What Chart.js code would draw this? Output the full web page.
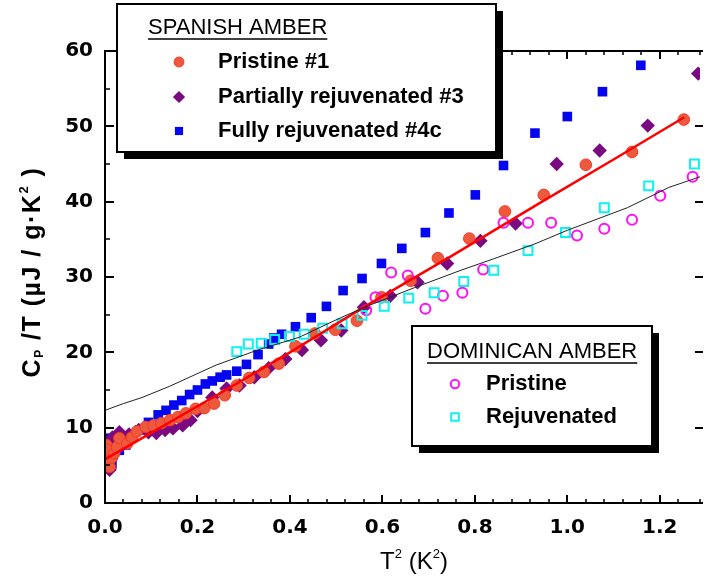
<!DOCTYPE html>
<html lang="en">
<head>
<meta charset="UTF-8">
<title>Amber specific heat</title>
<script src="https://cdn.jsdelivr.net/npm/chart.js"></script>
<style>
  html, body { margin: 0; padding: 0; background: #fff; }
  canvas { display: block; }
</style>
</head>
<body>
<canvas id="cpChart" width="713" height="583"></canvas>
<script>
// [T^2, Cp/T] pairs
const spanishPristine1 = [
  [0.003,7.7],[0.005,7.0],[0.010,4.8],[0.014,6.0],[0.020,6.6],[0.026,7.4],[0.031,8.6],[0.048,7.9],
  [0.058,8.7],[0.069,9.5],[0.088,10.1],[0.105,10.3],[0.122,10.6],[0.141,11.0],[0.158,11.4],[0.175,11.9],
  [0.196,12.5],[0.215,12.6],[0.236,13.2],[0.259,14.3],[0.285,15.6],[0.312,16.6],[0.344,17.4],[0.376,18.5],
  [0.412,20.8],[0.454,22.5],[0.498,23.0],[0.545,24.2],[0.598,27.3],[0.661,29.5],[0.720,32.5],[0.788,35.1],
  [0.865,38.7],[0.949,40.9],[1.040,44.9],[1.140,46.6],[1.252,50.9]
];
const spanishPartial3 = [
  [0.010,4.4],[0.016,8.7],[0.031,9.4],[0.052,9.1],[0.073,9.7],[0.094,9.4],[0.111,9.3],[0.130,9.7],
  [0.147,9.9],[0.168,10.3],[0.185,11.0],[0.200,12.2],[0.232,14.0],[0.263,15.2],[0.291,15.6],[0.323,16.7],
  [0.354,17.9],[0.390,19.1],[0.426,20.3],[0.467,21.6],[0.511,22.9],[0.560,26.0],[0.617,27.5],[0.676,29.3],
  [0.740,31.8],[0.812,34.8],[0.888,37.1],[0.977,45.0],[1.070,46.8],[1.174,50.1],[1.283,57.0]
];
const spanishFully4c = [
  [0.003,6.4],[0.005,8.6],[0.010,7.7],[0.015,5.2],[0.018,6.4],[0.031,7.0],[0.045,7.7],[0.060,9.0],
  [0.075,9.7],[0.094,10.7],[0.115,11.7],[0.132,12.3],[0.149,13.0],[0.166,13.6],[0.183,14.4],[0.200,15.0],
  [0.217,15.8],[0.232,16.2],[0.249,16.7],[0.263,17.0],[0.285,17.5],[0.306,18.4],[0.331,19.7],[0.354,21.1],
  [0.365,21.9],[0.382,22.4],[0.412,23.4],[0.446,24.6],[0.479,26.1],[0.515,28.2],[0.556,29.8],[0.598,31.8],
  [0.642,33.8],[0.693,35.9],[0.744,38.5],[0.801,40.9],[0.862,44.8],[0.930,49.1],[1.000,51.3],[1.076,54.6],
  [1.159,58.1]
];
const dominicanPristine = [
  [0.565,25.6],[0.585,27.3],[0.619,30.6],[0.655,30.2],[0.693,25.8],[0.731,27.5],[0.773,27.9],[0.818,31.0],
  [0.862,37.2],[0.915,37.2],[0.965,37.2],[1.021,35.5],[1.080,36.4],[1.140,37.6],[1.201,40.8],[1.271,43.3]
];
const dominicanRejuvenated = [
  [0.285,20.1],[0.310,21.1],[0.338,21.2],[0.367,21.7],[0.399,22.1],[0.431,22.4],[0.471,23.2],[0.513,23.8],
  [0.556,24.9],[0.604,26.1],[0.657,27.2],[0.712,27.9],[0.776,29.4],[0.841,30.9],[0.915,33.5],[0.996,35.9],
  [1.080,39.2],[1.176,42.1],[1.275,45.0]
];
// fitted curves as drawn
const spanishFit = [
  [0,5.8],[0.1,9.3],[0.25,14.6],[0.4,20.0],[0.56,26.0],[0.75,32.8],[0.94,39.8],[1.1,45.6],[1.253,51.2]
];
const dominicanFit = [
  [0,12.3],[0.04,13.2],[0.08,14.0],[0.14,15.5],[0.24,18.3],[0.33,20.3],[0.42,22.0],[0.51,24.6],[0.57,26.2],
  [0.67,28.6],[0.77,30.9],[0.84,32.4],[0.93,34.4],[1.00,36.2],[1.13,39.2],[1.22,41.9],[1.287,43.3]
];

const xTickLabels = ['0.0','0.2','0.4','0.6','0.8','1.0','1.2'];
const yTickLabels = ['0','10','20','30','40','50','60'];
const spanishLabels = ['Pristine #1', 'Partially rejuvenated #3', 'Fully rejuvenated #4c'];
const dominicanLabels = ['Pristine', 'Rejuvenated'];

const toXY = arr => arr.map(p => ({ x: p[0], y: p[1] }));
const labelFor = (v, step, list) => {
  const i = Math.round(v / step);
  return Math.abs(v - i * step) < 1e-6 && list[i] !== undefined ? list[i] : '';
};
const isMajor = (v, step) => Math.abs(v / step - Math.round(v / step)) < 1e-6;

const tickFont = { family: '"DejaVu Sans", sans-serif', weight: 'bold', size: 20 };
const sans = '"Liberation Sans", Arial, sans-serif';

// style of each marker series (used by both datasets and legends)
const redStyle = { pointStyle: 'circle', pointRadius: 5.8, backgroundColor: '#EC5A3E', borderColor: '#FF3322', borderWidth: 1 };
const purpleStyle = { pointStyle: 'rectRot', pointRadius: 7.2, backgroundColor: '#7A0A82', borderColor: '#7A0A82', borderWidth: 0 };
const blueStyle = { pointStyle: 'rect', pointRadius: 6.8, backgroundColor: '#0505F0', borderColor: '#0505F0', borderWidth: 0 };
const magentaStyle = { pointStyle: 'circle', pointRadius: 5, backgroundColor: 'rgba(0,0,0,0)', borderColor: '#FF10F0', borderWidth: 2 };
const cyanStyle = { pointStyle: 'rect', pointRadius: 6.3, backgroundColor: 'rgba(0,0,0,0)', borderColor: '#10F0F0', borderWidth: 2 };

function line(ctx, x1, y1, x2, y2) {
  ctx.beginPath(); ctx.moveTo(x1, y1); ctx.lineTo(x2, y2); ctx.stroke();
}

// frame with inward ticks on all sides
const framePlugin = {
  id: 'frame',
  afterDatasetsDraw(chart) {
    const { ctx, chartArea: a, scales: { x, y } } = chart;
    ctx.save();
    ctx.strokeStyle = '#000';
    ctx.lineCap = 'square';
    ctx.lineWidth = 2;
    line(ctx, a.left, a.bottom, a.right + 2, a.bottom);
    line(ctx, a.left, a.top, a.right + 2, a.top);
    line(ctx, a.left, a.top, a.left, a.bottom);
    ctx.lineCap = 'butt';
    x.ticks.forEach(t => {
      const px = Math.round(x.getPixelForValue(t.value));
      const major = isMajor(t.value, 0.2);
      const len = major ? 8 : 4;
      ctx.lineWidth = major ? 2 : 1.5;
      line(ctx, px, a.bottom, px, a.bottom - len);
      line(ctx, px, a.top, px, a.top + len);
    });
    y.ticks.forEach(t => {
      const py = Math.round(y.getPixelForValue(t.value));
      const major = isMajor(t.value, 10);
      ctx.lineWidth = major ? 2 : 1.5;
      line(ctx, a.left, py, a.left + (major ? 9 : 5), py);
      if (major) line(ctx, a.right + 3, py, a.right - 5, py);
    });
    ctx.restore();
  }
};

function drawRich(ctx, parts, x, y, align) {
  // parts: [text, size, weight, dy]
  let total = 0;
  parts.forEach(p => { ctx.font = p[2] + ' ' + p[1] + 'px ' + sans; total += ctx.measureText(p[0]).width; });
  let cx = align === 'center' ? x - total / 2 : x;
  parts.forEach(p => {
    ctx.font = p[2] + ' ' + p[1] + 'px ' + sans;
    ctx.fillText(p[0], cx, y + p[3]);
    cx += ctx.measureText(p[0]).width;
  });
}

function drawBox(ctx, l, t, r, b) {
  ctx.fillStyle = '#000';
  ctx.fillRect(l + 7, t + 7, r - l, b - t);
  ctx.fillStyle = '#fff';
  ctx.fillRect(l, t, r - l, b - t);
  ctx.strokeStyle = '#000';
  ctx.lineWidth = 2;
  ctx.strokeRect(l, t, r - l, b - t);
}

function drawMarker(ctx, st, x, y) {
  ctx.fillStyle = st.backgroundColor;
  ctx.strokeStyle = st.borderColor;
  ctx.lineWidth = st.borderWidth;
  Chart.helpers.drawPoint(ctx, { pointStyle: st.pointStyle, radius: st.pointRadius * 0.85, borderWidth: st.borderWidth, rotation: 0 }, x, y);
}

const decorPlugin = {
  id: 'decor',
  afterDraw(chart) {
    const ctx = chart.ctx;
    ctx.save();
    ctx.fillStyle = '#000';
    ctx.textBaseline = 'middle';

    // axis titles
    drawRich(ctx, [['T', 24, 'normal', 0], ['2', 13, 'normal', -8], [' (K', 24, 'normal', 0], ['2', 13, 'normal', -8], [')', 24, 'normal', 0]], 414, 562, 'center');
    ctx.save();
    ctx.translate(33, 272);
    ctx.rotate(-Math.PI / 2);
    ctx.letterSpacing = '1.5px';
    drawRich(ctx, [['C', 25, 'bold', 0], ['P', 12, 'bold', 7], [' /T (\u00b5J / g\u00b7K', 25, 'bold', 0], ['2', 13, 'bold', -9], [' )', 25, 'bold', 0]], 0, 0, 'center');
    ctx.restore();

    // Spanish amber legend
    drawBox(ctx, 117, 4, 496, 152);
    ctx.fillStyle = '#000';
    ctx.textAlign = 'left';
    ctx.font = 'normal 22px ' + sans;
    ctx.fillText('SPANISH AMBER', 148, 28);
    let w = ctx.measureText('SPANISH AMBER').width;
    ctx.lineWidth = 1.5;
    line(ctx, 148, 39, 148 + w, 39);
    [redStyle, purpleStyle, blueStyle].forEach((st, i) => {
      const yy = [62, 97, 131][i];
      drawMarker(ctx, st, 179, yy);
      ctx.fillStyle = '#000';
      ctx.font = 'bold 22px ' + sans;
      ctx.fillText(spanishLabels[i], 218, yy);
    });

    // Dominican amber legend
    drawBox(ctx, 412, 326, 652, 446);
    ctx.fillStyle = '#000';
    ctx.font = 'normal 22px ' + sans;
    ctx.fillText('DOMINICAN AMBER', 427, 352);
    w = ctx.measureText('DOMINICAN AMBER').width;
    ctx.strokeStyle = '#000';
    ctx.lineWidth = 1.5;
    line(ctx, 427, 363, 427 + w, 363);
    [magentaStyle, cyanStyle].forEach((st, i) => {
      const yy = [384, 417][i];
      drawMarker(ctx, st, 455, yy);
      ctx.fillStyle = '#000';
      ctx.font = 'bold 22px ' + sans;
      ctx.fillText(dominicanLabels[i], 486, yy);
    });
    ctx.restore();
  }
};

const markerSet = (label, data, st) => Object.assign({ label, data: toXY(data), showLine: false, pointHoverRadius: st.pointRadius,
  pointBackgroundColor: st.backgroundColor, pointBorderColor: st.borderColor, pointBorderWidth: st.borderWidth }, st);

new Chart(document.getElementById('cpChart'), {
  type: 'scatter',
  data: {
    datasets: [
      { label: 'Dominican fit', data: toXY(dominicanFit), showLine: true, borderColor: '#222', borderWidth: 1, pointRadius: 0, tension: 0 },
      { label: 'Spanish fit', data: toXY(spanishFit), showLine: true, borderColor: '#FF0000', borderWidth: 2.5, pointRadius: 0, tension: 0 },
      markerSet('Dominican Rejuvenated', dominicanRejuvenated, cyanStyle),
      markerSet('Dominican Pristine', dominicanPristine, magentaStyle),
      markerSet(spanishLabels[0], spanishPristine1, redStyle),
      markerSet(spanishLabels[1], spanishPartial3, purpleStyle),
      markerSet(spanishLabels[2], spanishFully4c, blueStyle)
    ]
  },
  options: {
    responsive: false,
    animation: false,
    layout: { padding: { top: 51, right: 0, left: 0, bottom: 0 } },
    plugins: { legend: { display: false }, tooltip: { enabled: false } },
    scales: {
      x: {
        type: 'linear', min: 0, max: 1.287,
        grid: { display: false, drawTicks: false }, border: { display: false },
        afterFit: s => { s.height = 80; },
        ticks: {
          stepSize: 0.04, autoSkip: false, maxRotation: 0, padding: 13, color: '#000', font: tickFont,
          callback: v => labelFor(v, 0.2, xTickLabels)
        }
      },
      y: {
        type: 'linear', min: 0, max: 60,
        grid: { display: false, drawTicks: false }, border: { display: false },
        afterFit: s => { s.width = 105; },
        ticks: {
          stepSize: 5, autoSkip: false, padding: 12, color: '#000', font: tickFont,
          callback: v => labelFor(v, 10, yTickLabels)
        }
      }
    }
  },
  plugins: [framePlugin, decorPlugin]
});
</script>
</body>
</html>
